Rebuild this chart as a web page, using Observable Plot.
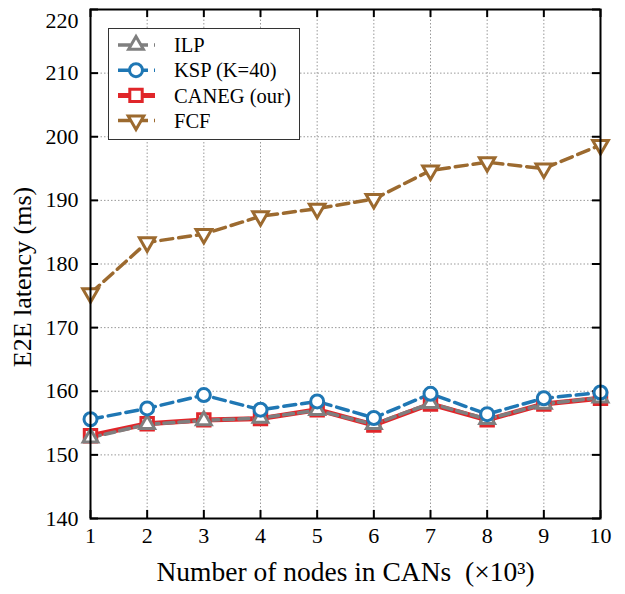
<!DOCTYPE html>
<html><head><meta charset="utf-8">
<script src="https://cdn.jsdelivr.net/npm/d3@7"></script>
<script src="https://cdn.jsdelivr.net/npm/@observablehq/plot@0.6"></script>
<style>
body{margin:0;background:#fff}
#wrap{position:relative;width:625px;height:594px;font-family:"Liberation Serif","Times New Roman",serif}
#legend{position:absolute;left:108px;top:28px;width:190px;height:110px;border:1.5px solid #333;background:#fff}
</style>
</head><body><div id="wrap"></div>
<script>
// ---- data ----
const nodes = [1, 2, 3, 4, 5, 6, 7, 8, 9, 10];
const ilp   = [152.7, 154.8, 155.4, 155.8, 157.0, 154.8, 158.1, 155.6, 158.0, 159.0];
const ksp   = [155.6, 157.3, 159.4, 157.1, 158.4, 155.8, 159.6, 156.4, 158.9, 159.8];
const caneg = [153.0, 154.9, 155.5, 155.7, 157.1, 154.7, 158.0, 155.5, 158.0, 158.9];
const fcf   = [175.4, 183.4, 184.7, 187.5, 188.7, 190.2, 194.7, 196.0, 195.0, 198.7];
const yTicks = [140, 150, 160, 170, 180, 190, 200, 210, 220];
const seriesNames = ["ILP", "KSP (K=40)", "CANEG (our)", "FCF"];
const xLabel = "Number of nodes in CANs\u2002(×10³)";
const yLabel = "E2E latency (ms)";

// ---- layout ----
const W = 625, H = 594, mL = 90, mT = 9, mR = 25, mB = 76;
const pw = W - mL - mR, ph = H - mT - mB;
const tickLen = 8;

const triDown = {
  draw(ctx, size) {
    const a = Math.sqrt(4 * size / Math.sqrt(3));
    const h = a * Math.sqrt(3) / 2;
    ctx.moveTo(-a / 2, -h / 3);
    ctx.lineTo(a / 2, -h / 3);
    ctx.lineTo(0, 2 * h / 3);
    ctx.closePath();
  }
};

const series = [
  {name: seriesNames[3], values: fcf,   color: "#9c6a2f", dash: "12,6", width: 3.5, symbol: triDown,    r: 5.8},
  {name: seriesNames[2], values: caneg, color: "#e0262a", dash: null,   width: 5,   symbol: "square",   r: 7},
  {name: seriesNames[0], values: ilp,   color: "#7f7f7f", dash: "10,5", width: 3.5, symbol: "triangle", r: 5.5},
  {name: seriesNames[1], values: ksp,   color: "#1f77b4", dash: "12,6", width: 3.5, symbol: "circle",   r: 6.5}
];

const marks = [
  Plot.gridX(nodes, {stroke: "#999", strokeOpacity: 1, strokeWidth: 1, strokeDasharray: "1.5,2"}),
  Plot.gridY(yTicks, {stroke: "#999", strokeOpacity: 1, strokeWidth: 1, strokeDasharray: "1.5,2"}),
  Plot.axisX(nodes, {tickSize: 0, tickPadding: 9, fontSize: 22, label: xLabel, labelAnchor: "center", labelArrow: "none", labelOffset: 62}),
  Plot.axisY(yTicks, {tickSize: 0, tickPadding: 12, fontSize: 22, label: yLabel, labelAnchor: "center", labelArrow: "none", labelOffset: 78}),
  Plot.tickX(nodes, {x: d => d, insetTop: ph - tickLen, stroke: "#000", strokeWidth: 2}),
  Plot.tickX(nodes, {x: d => d, insetBottom: ph - tickLen, stroke: "#000", strokeWidth: 2}),
  Plot.tickY(yTicks, {y: d => d, insetRight: pw - tickLen, stroke: "#000", strokeWidth: 2}),
  Plot.tickY(yTicks, {y: d => d, insetLeft: pw - tickLen, stroke: "#000", strokeWidth: 2})
];
for (const s of series) {
  const data = nodes.map((x, i) => ({x, y: s.values[i]}));
  marks.push(Plot.line(data, {x: "x", y: "y", stroke: s.color, strokeWidth: s.width, strokeDasharray: s.dash}));
}
for (const s of series) {
  const data = nodes.map((x, i) => ({x, y: s.values[i]}));
  marks.push(Plot.dot(data, {x: "x", y: "y", symbol: s.symbol, r: s.r, stroke: s.color, strokeWidth: 3, fill: "#fff"}));
}
marks.push(Plot.frame({stroke: "#000", strokeWidth: 2}));

const chart = Plot.plot({
  width: W, height: H,
  marginLeft: mL, marginTop: mT, marginRight: mR, marginBottom: mB,
  style: {fontFamily: '"Liberation Serif","Times New Roman",serif', color: "#000", background: "#fff", overflow: "visible"},
  x: {domain: [1, 10]},
  y: {domain: [140, 220]},
  marks
});
const wrap = document.getElementById("wrap");
wrap.appendChild(chart);
const svg = d3.select(chart);
svg.selectAll('g[aria-label="x-axis label"] text').attr("font-size", 27.5);
svg.selectAll('g[aria-label="y-axis label"] text').attr("font-size", 26).attr("dx", -13);
svg.selectAll('g[aria-label="y-axis tick label"] text')
  .filter(function() { return this.textContent === String(yTicks[yTicks.length - 1]); })
  .attr("dy", "0.5em");

// ---- legend ----
const leg = d3.select(wrap).append("div").attr("id", "legend")
  .append("svg").attr("width", 190).attr("height", 110);
const legOrder = [series[2], series[3], series[1], series[0]];
const symGen = (s) => {
  const sym = s.symbol === "circle" ? d3.symbolCircle : s.symbol === "square" ? d3.symbolSquare : s.symbol === "triangle" ? d3.symbolTriangle : s.symbol;
  return d3.symbol(sym, Math.PI * s.r * s.r)();
};
legOrder.forEach((s, i) => {
  const y = 16 + i * 25.2;
  const g = leg.append("g").attr("transform", `translate(0,${y})`);
  g.append("line").attr("x1", 9).attr("x2", 46).attr("y1", 0).attr("y2", 0)
    .attr("stroke", s.color).attr("stroke-width", s.width).attr("stroke-dasharray", s.dash ? "12,6" : null);
  g.append("path").attr("d", symGen(s)).attr("transform", "translate(27,0)")
    .attr("fill", "#fff").attr("stroke", s.color).attr("stroke-width", 3);
  g.append("text").attr("x", 65).attr("y", 0).attr("dy", "0.35em")
    .attr("font-size", 20.5).attr("fill", "#000").text(s.name);
});
</script>
</body></html>
